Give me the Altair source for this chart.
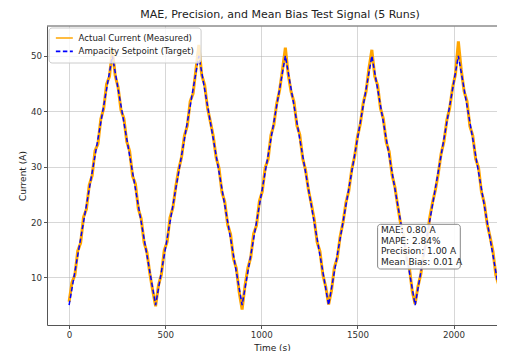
import altair as alt
import pandas as pd

title_text = "MAE, Precision, and Mean Bias Test Signal (5 Runs)"
series_names = ["Actual Current (Measured)", "Ampacity Setpoint (Target)"]
series_colors = ["#FFA500", "#0000FF"]
x_ticks = [0, 500, 1000, 1500, 2000]
y_ticks = [10, 20, 30, 40, 50]

# Target triangle wave vertices (s, A)
target_times = [0, 225, 450, 675, 900, 1125, 1350, 1575, 1800, 2025, 2250]
target_values = [5, 50, 5, 50, 5, 50, 5, 50, 5, 50, 5]

sample_step = 15
actual_values = [
    5.6, 9.1, 10.4, 14.8, 16.2, 20.9, 22.3, 26.7, 28.4, 32.9, 34.1, 38.6, 40.5, 44.9, 46.3, 51.2,
    46.4, 44.3, 40.2, 38.7, 34.5, 32.8, 28.3, 26.9, 22.4, 20.6, 16.3, 14.5, 10.7, 7.6, 4.8,
    8.6, 10.5, 14.9, 16.4, 20.8, 22.6, 26.4, 29.5, 31.7, 35.6, 37.4, 41.8, 43.2, 47.6, 52.0,
    46.5, 44.8, 40.6, 38.1, 35.5, 31.6, 29.7, 25.4, 23.6, 19.5, 17.8, 13.4, 11.6, 7.3, 4.2,
    8.5, 11.7, 13.6, 17.9, 19.4, 23.8, 25.5, 29.8, 31.3, 35.7, 37.5, 41.4, 43.8, 47.5, 51.5,
    46.6, 43.5, 41.7, 37.4, 35.8, 31.5, 29.4, 25.8, 23.3, 20.5, 16.4, 14.7, 10.5, 8.3, 5.1,
    7.6, 11.8, 13.5, 17.4, 19.9, 23.5, 25.6, 29.4, 31.8, 35.4, 37.7, 41.5, 43.6, 47.8, 51.1,
    46.3, 44.7, 40.5, 38.6, 34.4, 32.7, 28.5, 26.3, 22.8, 19.6, 17.7, 13.4, 11.8, 7.5, 5.2,
    8.4, 10.6, 14.7, 16.3, 20.6, 23.4, 25.7, 28.6, 32.3, 34.5, 38.4, 40.6, 44.3, 46.7, 52.6,
    47.5, 43.6, 41.8, 37.3, 35.6, 31.4, 29.8, 25.5, 23.4, 19.6, 17.3, 14.7, 10.4, 8.6, 5.0,
]

stats_lines = ["MAE: 0.80 A", "MAPE: 2.84%", "Precision: 1.00 A", "Mean Bias: 0.01 A"]

FONT = "DejaVu Sans"
SPINE = "#555555"

actual_times = [i * sample_step for i in range(len(actual_values))]
df_actual = pd.DataFrame({"time": actual_times, "current": actual_values, "series": series_names[0]})
df_target = pd.DataFrame({"time": target_times, "current": target_values, "series": series_names[1]})

x_enc = alt.X("time:Q",
              scale=alt.Scale(domain=[-115, 2226], nice=False, zero=False),
              axis=alt.Axis(values=x_ticks, title="Time (s)", format="d"))
y_enc = alt.Y("current:Q",
              scale=alt.Scale(domain=[1.4, 55.4], nice=False, zero=False),
              axis=alt.Axis(values=y_ticks, title="Current (A)", format="d"))
legend = alt.Legend(title=None, symbolStrokeWidth=1.7)
color_enc = alt.Color("series:N", scale=alt.Scale(domain=series_names, range=series_colors),
                      legend=legend)
dash_enc = alt.StrokeDash("series:N",
                          scale=alt.Scale(domain=series_names, range=[[1, 0], [4.5, 2.5]]),
                          legend=legend)

actual_line = alt.Chart(df_actual).mark_line(clip=True, strokeWidth=3).encode(
    x=x_enc, y=y_enc, color=color_enc, strokeDash=dash_enc
)
target_line = alt.Chart(df_target).mark_line(clip=True, strokeWidth=1.5).encode(
    x=x_enc, y=y_enc, color=color_enc, strokeDash=dash_enc
)

one = pd.DataFrame({"k": [0]})
top_spine = alt.Chart(one).mark_rule(color=SPINE, strokeWidth=1).encode(
    x=alt.value(0), x2=alt.value(450), y=alt.value(0)
)
box = alt.Chart(one).mark_rect(
    fill="white", fillOpacity=0.9, stroke="#888888", strokeWidth=1, cornerRadius=3
).encode(
    x=alt.value(330.6), x2=alt.value(413.3), y=alt.value(198.3), y2=alt.value(243)
)
stats = alt.Chart(one).mark_text(
    align="left", baseline="top", font=FONT, fontSize=9, lineHeight=10.5, color="#222222",
    text=stats_lines,
).encode(x=alt.value(334), y=alt.value(200))

chart = alt.layer(actual_line, target_line, top_spine, box, stats).properties(
    width=450, height=299,
    title=alt.Title(title_text, font=FONT, fontSize=11, fontWeight="normal", color="#222222",
                    anchor="middle", dx=8, offset=6),
    autosize=alt.AutoSizeParams(type="none"),
    padding={"left": 39, "top": 18, "right": 0, "bottom": 26},
).configure_view(
    stroke=None
).configure_axis(
    domain=True, domainColor=SPINE, domainWidth=1,
    grid=True, gridColor="#b0b0b0", gridOpacity=0.5, gridWidth=1,
    tickColor=SPINE, tickSize=3.5, labelFont=FONT, labelFontSize=8.7, labelColor="#333333",
    labelPadding=2, titleFont=FONT, titleFontSize=9, titleFontWeight="normal", titleColor="#222222",
).configure_axisY(titlePadding=3).configure_axisX(titlePadding=4).configure_legend(
    orient="none", legendX=1.6, legendY=1.5, fillColor="rgba(255,255,255,0.8)", strokeColor="#cccccc",
    cornerRadius=3, padding=6, labelFont=FONT, labelFontSize=8.6, labelColor="#222222",
    symbolType="M-1,0L3,0", symbolSize=72, symbolStrokeWidth=1.7, rowPadding=3.3,
    labelOffset=13, clipHeight=9,
)

chart.save("out.html", embed_options={"renderer": "svg", "actions": False})
